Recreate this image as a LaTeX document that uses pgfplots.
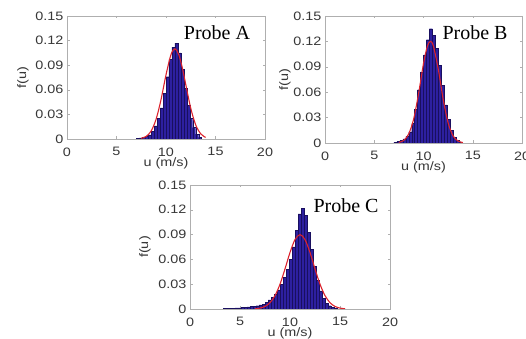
\documentclass[border=0pt]{standalone}
\usepackage{fontspec}
\setmainfont[FakeStretch=1.18]{Liberation Sans}
\newfontfamily\seriffont{Liberation Serif}
\usepackage{pgfplots}
\pgfplotsset{compat=1.18}

\definecolor{barfill}{RGB}{45,32,160}
\definecolor{baredge}{RGB}{25,15,95}
\definecolor{fitred}{RGB}{220,35,45}
\definecolor{axgray}{RGB}{175,175,175}
\definecolor{txtgray}{RGB}{55,55,55}

\pgfplotsset{
  hist/.style={
    scale only axis,
    xmin=0,xmax=20,ymin=0,ymax=0.15,
    xtick={0,5,10,15,20},
    ytick={0,0.03,0.06,0.09,0.12,0.15},
    yticklabels={0,0.03,0.06,0.09,0.12,0.15},
    scaled y ticks=false,
    axis line style={axgray},
    tick style={axgray, thin},
    major tick length=2.5pt,
    tick align=inside,
    ticklabel style={font=\fontsize{12.2}{13}\selectfont, text=txtgray},
    xticklabel style={yshift=-5pt},
    label style={font=\fontsize{12.2}{13}\selectfont, text=txtgray},
    /pgf/number format/assume math mode=true,
    xlabel={u (m/s)}, ylabel={f(u)},
  },
  bars/.style={ybar, bar width=0.3, fill=barfill, draw=baredge, line width=0.3pt},
  fit/.style={fitred, line width=1.1pt, smooth, mark=none},
}

\begin{document}
\begin{tikzpicture}[x=1pt,y=1pt]
\useasboundingbox (0,0) rectangle (526,339);

% ---------- Probe A ----------
\begin{axis}[hist, at={(67pt,200pt)}, anchor=south west, width=198pt, height=123pt,
  xlabel style={at={(axis description cs:0.5,-0.195)}, anchor=center},
  ylabel style={at={(axis description cs:-0.222,0.5)}, anchor=center}]
\addplot[bars] coordinates {
(7.15,0.001) (7.45,0.0015) (7.75,0.002) (8.05,0.003) (8.35,0.005) (8.65,0.009)
(8.95,0.016) (9.25,0.025) (9.55,0.038) (9.85,0.056) (10.15,0.076) (10.45,0.097)
(10.75,0.112) (11.05,0.117) (11.35,0.105) (11.65,0.085) (11.95,0.062) (12.25,0.041)
(12.55,0.025) (12.85,0.014) (13.15,0.006) (13.45,0.002)};
\addplot[fit] coordinates {
(7.5,0.0009) (8.0,0.0032) (8.5,0.0097) (9.0,0.0241) (9.5,0.0482) (10.0,0.0782)
(10.5,0.1028) (10.9,0.110) (11.3,0.1026) (11.7,0.0841) (12.0,0.0661) (12.5,0.0375)
(13.0,0.0172) (13.5,0.0064) (14.0,0.0019)};
\end{axis}

% ---------- Probe B ----------
\begin{axis}[hist, at={(325pt,196pt)}, anchor=south west, width=197pt, height=127pt,
  xlabel style={at={(axis description cs:0.5,-0.189)}, anchor=center},
  ylabel style={at={(axis description cs:-0.203,0.5)}, anchor=center}]
\addplot[bars] coordinates {
(7.15,0.001) (7.45,0.002) (7.75,0.003) (8.05,0.005) (8.35,0.008) (8.65,0.013)
(8.95,0.023) (9.25,0.040) (9.55,0.063) (9.85,0.084) (10.15,0.104) (10.45,0.122)
(10.75,0.135) (11.05,0.127) (11.35,0.112) (11.65,0.092) (11.95,0.068) (12.25,0.045)
(12.55,0.028) (12.85,0.015) (13.15,0.007) (13.45,0.003) (13.75,0.001)};
\addplot[fit] coordinates {
(7.5,0.0007) (8.0,0.0031) (8.5,0.0107) (9.0,0.0283) (9.5,0.0584) (10.0,0.0939)
(10.4,0.1147) (10.7,0.120) (11.0,0.1147) (11.5,0.0871) (12.0,0.0516) (12.5,0.0237)
(13.0,0.0085) (13.5,0.0024) (14.0,0.0005)};
\end{axis}

% ---------- Probe C ----------
\begin{axis}[hist, at={(190pt,30pt)}, anchor=south west, width=200pt, height=124pt,
  xlabel style={at={(axis description cs:0.5,-0.194)}, anchor=center},
  ylabel style={at={(axis description cs:-0.225,0.5)}, anchor=center}]
\addplot[bars] coordinates {
(3.45,0.0005) (3.75,0.0005) (4.05,0.001) (4.35,0.001) (4.65,0.0015) (4.95,0.0015)
(5.25,0.002) (5.55,0.002) (5.85,0.0025) (6.15,0.003) (6.45,0.0035) (6.75,0.004)
(7.05,0.005) (7.35,0.006) (7.65,0.008) (7.95,0.011) (8.25,0.014) (8.55,0.018)
(8.85,0.023) (9.15,0.030) (9.45,0.038) (9.75,0.048) (10.05,0.060) (10.35,0.075)
(10.65,0.095) (10.95,0.115) (11.25,0.122) (11.55,0.113) (11.85,0.093) (12.15,0.072)
(12.45,0.052) (12.75,0.035) (13.05,0.022) (13.35,0.013) (13.65,0.007) (13.95,0.004)
(14.25,0.002) (14.55,0.001)};
\addplot[fit] coordinates {
(6.5,0.0003) (7.0,0.0011) (7.5,0.0031) (8.0,0.0076) (8.5,0.0162) (9.0,0.0300)
(9.5,0.0485) (10.0,0.0684) (10.5,0.0840) (11.0,0.090) (11.5,0.0840) (12.0,0.0684)
(12.5,0.0485) (13.0,0.0300) (13.5,0.0162) (14.0,0.0076) (14.5,0.0031) (15.0,0.0011)
(15.5,0.0003)};
\end{axis}

% ---------- Probe annotations ----------
\node[font=\seriffont\fontsize{20}{22}\selectfont, inner sep=0pt] at (217,306) {Probe A};
\node[font=\seriffont\fontsize{20}{22}\selectfont, inner sep=0pt] at (475,306) {Probe B};
\node[font=\seriffont\fontsize{20}{22}\selectfont, inner sep=0pt] at (346,133) {Probe C};
\end{tikzpicture}
\end{document}
